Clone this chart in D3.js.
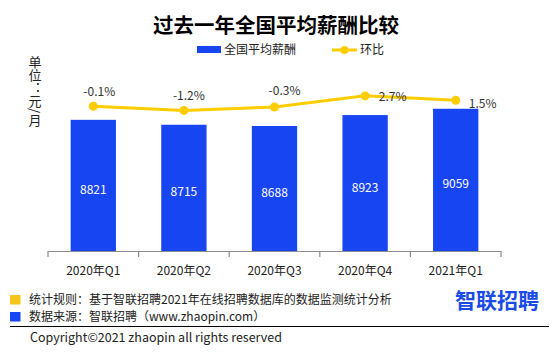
<!DOCTYPE html>
<html>
<head>
<meta charset="utf-8">
<script src="https://cdn.jsdelivr.net/npm/d3@7"></script>
<style>
  html, body { margin: 0; padding: 0; background: #fff; }
  svg { display: block; font-family: "Noto Sans CJK SC", "Noto Sans", sans-serif; }
</style>
</head>
<body>
<div id="chart"></div>
<script>
// 过去一年全国平均薪酬比较

// 数据
const quarters = ['2020年Q1', '2020年Q2', '2020年Q3', '2020年Q4', '2021年Q1'];
const salary = [8821, 8715, 8688, 8923, 9059];
const growth = [-0.1, -1.2, -0.3, 2.7, 1.5];
const footNotes = ['统计规则：基于智联招聘2021年在线招聘数据库的数据监测统计分析', '数据来源：智联招聘（www.zhaopin.com）'];

// 环比标签相对数据点的偏移
const labelOffsets = [[6, -10.7], [5, -10], [10, -12.3], [27.5, 5.3], [27, 7.3]];

const width = 554, height = 352;
const blue = '#1745f2';
const yellow = '#ffcc00';

const svg = d3.select('#chart').append('svg')
    .attr('width', width)
    .attr('height', height);

// 比例尺
const x = d3.scaleBand().domain(quarters).range([48, 501]).padding(0);
const y = d3.scaleLinear().domain([6000, 10000]).range([251, 65]);
const y2 = d3.scaleLinear().domain([-39, 11]).range([251, 65]);
const barW = x.bandwidth() * 0.5;

// 标题
svg.append('text')
    .attr('x', 276)
    .attr('y', 33)
    .attr('text-anchor', 'middle')
    .style('font-size', '20.5px')
    .style('font-weight', 'bold')
    .style('fill', '#000')
    .text('过去一年全国平均薪酬比较');

// 图例
const legend = svg.append('g').style('font-size', '12px').style('fill', '#222');
legend.append('rect')
    .attr('x', 197).attr('y', 46).attr('width', 24).attr('height', 7)
    .style('fill', blue);
legend.append('text').attr('x', 224).attr('y', 54).text('全国平均薪酬');
legend.append('line')
    .attr('x1', 332).attr('x2', 357).attr('y1', 50).attr('y2', 50)
    .style('stroke', yellow).style('stroke-width', 3);
legend.append('circle')
    .attr('cx', 344.5).attr('cy', 50).attr('r', 4)
    .style('fill', yellow);
legend.append('text').attr('x', 360).attr('y', 54).text('环比');

// 纵轴单位
svg.append('text')
    .attr('x', 35)
    .attr('y', 56)
    .style('writing-mode', 'vertical-rl')
    .style('font-size', '13px')
    .style('fill', '#222')
    .text('单位：元/月');

// 柱子
svg.selectAll('.bar')
    .data(salary)
    .enter()
    .append('rect')
    .attr('class', 'bar')
    .attr('x', (d, i) => x(quarters[i]) + (x.bandwidth() - barW) / 2)
    .attr('y', d => y(d))
    .attr('width', barW)
    .attr('height', d => y(6000) - y(d))
    .style('fill', blue);

// 柱内数值
svg.selectAll('.bar-label')
    .data(salary)
    .enter()
    .append('text')
    .attr('class', 'bar-label')
    .attr('x', (d, i) => x(quarters[i]) + x.bandwidth() / 2)
    .attr('y', d => (y(d) + y(6000)) / 2 + 3)
    .attr('text-anchor', 'middle')
    .attr('dominant-baseline', 'central')
    .style('font-size', '12px')
    .style('fill', '#fff')
    .text(d => d);

// 横轴
const axis = svg.append('g')
    .attr('transform', `translate(0,${y(6000)})`)
    .call(d3.axisBottom(x).tickSize(0).tickPadding(15));
axis.select('.domain').attr('stroke', '#8c8c8c').attr('stroke-width', 1.2);
axis.selectAll('.tick text')
    .style('font-size', '12px')
    .style('fill', '#222')
    .style('font-family', '"Noto Sans CJK SC", sans-serif');

// 类别边界刻度
const edges = quarters.map(q => x(q)).concat([x.range()[1]]);
axis.selectAll('.edge-tick')
    .data(edges)
    .enter()
    .append('line')
    .attr('class', 'edge-tick')
    .attr('x1', d => d).attr('x2', d => d)
    .attr('y1', 0).attr('y2', 6)
    .style('stroke', '#8c8c8c')
    .style('stroke-width', 1.2);

// 环比折线
const line = d3.line()
    .x((d, i) => x(quarters[i]) + x.bandwidth() / 2)
    .y(d => y2(d));

svg.append('path')
    .datum(growth)
    .attr('d', line)
    .style('fill', 'none')
    .style('stroke', yellow)
    .style('stroke-width', 3);

svg.selectAll('.dot')
    .data(growth)
    .enter()
    .append('circle')
    .attr('class', 'dot')
    .attr('cx', (d, i) => x(quarters[i]) + x.bandwidth() / 2)
    .attr('cy', d => y2(d))
    .attr('r', 4.5)
    .style('fill', yellow);

svg.selectAll('.growth-label')
    .data(growth)
    .enter()
    .append('text')
    .attr('class', 'growth-label')
    .attr('x', (d, i) => x(quarters[i]) + x.bandwidth() / 2 + labelOffsets[i][0])
    .attr('y', (d, i) => y2(d) + labelOffsets[i][1])
    .attr('text-anchor', 'middle')
    .style('font-size', '12px')
    .style('fill', '#333')
    .text(d => d.toFixed(1) + '%');

// 脚注
const foot = svg.append('g').style('font-size', '12px').style('fill', '#222');
foot.selectAll('rect')
    .data([yellow, blue])
    .enter()
    .append('rect')
    .attr('x', 10)
    .attr('y', (d, i) => 295 + i * 17)
    .attr('width', 10.5)
    .attr('height', 9.5)
    .style('fill', d => d === yellow ? '#f5c518' : d);
foot.selectAll('text')
    .data(footNotes)
    .enter()
    .append('text')
    .attr('x', 29)
    .attr('y', (d, i) => 304 + i * 17)
    .text(d => d);

svg.append('line')
    .attr('x1', 10).attr('x2', 549)
    .attr('y1', 326.5).attr('y2', 326.5)
    .style('stroke', '#000')
    .style('stroke-width', 1);

svg.append('text')
    .attr('x', 30)
    .attr('y', 342)
    .style('font-size', '12.5px')
    .style('fill', '#222')
    .text('Copyright©2021 zhaopin all rights reserved');

// 智联招聘 标志
svg.append('text')
    .attr('x', 497)
    .attr('y', 308)
    .attr('text-anchor', 'middle')
    .style('font-size', '21px')
    .style('font-weight', 'bold')
    .style('fill', '#1a4be8')
    .text('智联招聘');
</script>
</body>
</html>
